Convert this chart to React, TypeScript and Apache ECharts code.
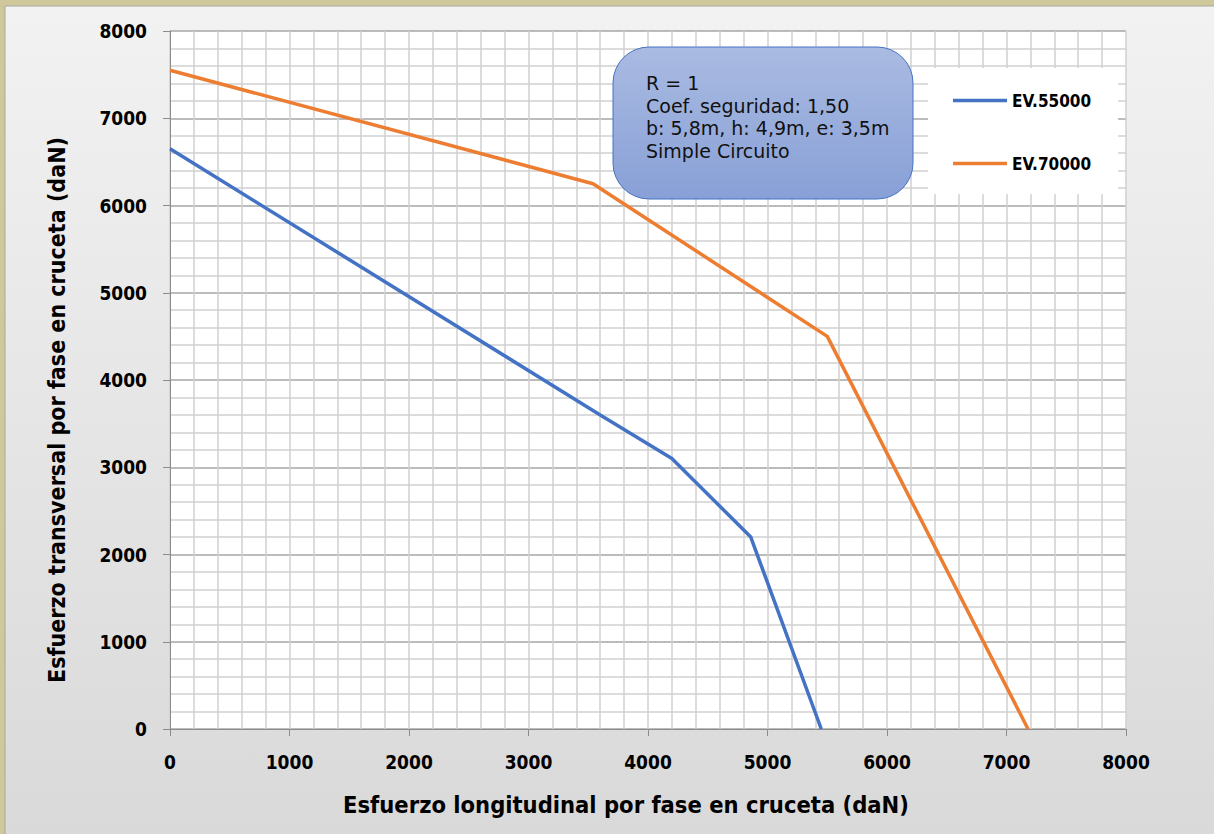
import React, { useEffect, useRef } from "react";
import * as echarts from "echarts";

const seriesNames = ["EV.55000", "EV.70000"];
const ev55000: [number, number][] = [
  [0, 6650],
  [3600, 3600],
  [4200, 3100],
  [4860, 2200],
  [5450, 0],
];
const ev70000: [number, number][] = [
  [0, 7550],
  [3540, 6250],
  [5500, 4500],
  [7180, 0],
];
const annotationLines = [
  "R = 1",
  "Coef. seguridad: 1,50",
  "b: 5,8m, h: 4,9m, e: 3,5m",
  "Simple Circuito",
];
const xTitle = "Esfuerzo longitudinal por fase en cruceta (daN)";
const yTitle = "Esfuerzo transversal por fase en cruceta (daN)";

const FONT = "'DejaVu Sans Condensed', 'DejaVu Sans', sans-serif";
const FONT_REG = "'DejaVu Sans', Verdana, sans-serif";
const LEGEND_ICON = "path://M0,0 L54,0 L54,3.5 L0,3.5 Z";

export default function App() {
  const ref = useRef<HTMLDivElement>(null);
  useEffect(() => {
    document.body.style.margin = "0";
    const chart = echarts.init(ref.current!, undefined, { renderer: "svg" });
    const axisCommon = {
      type: "value" as const,
      min: 0,
      max: 8000,
      interval: 1000,
      axisLine: { show: true, lineStyle: { color: "#8c8c8c", width: 1 } },
      axisTick: { show: true, inside: false, length: 7, lineStyle: { color: "#8c8c8c" } },
      minorTick: { show: false, splitNumber: 5 },
      minorSplitLine: { show: true, lineStyle: { color: "#d0d0d0", width: 1.5 } },
      axisLabel: {
        margin: 23,
        color: "#000",
        fontFamily: FONT,
        fontWeight: "bold" as const,
        fontSize: 19,
        formatter: (v: number) => String(v),
      },
    };
    chart.setOption({
      animation: false,
      backgroundColor: "#cfc89b",
      textStyle: { fontFamily: FONT },
      grid: {
        left: 170,
        top: 31,
        right: 88,
        bottom: 105,
        show: true,
        backgroundColor: "#ffffff",
        borderWidth: 0,
      },
      xAxis: {
        ...axisCommon,
        splitLine: { show: true, lineStyle: { color: "#d0d0d0", width: 1.5 } },
      },
      yAxis: {
        ...axisCommon,
        splitLine: { show: true, lineStyle: { color: "#a6a6a6", width: 1.5 } },
      },
      legend: {
        show: true,
        orient: "vertical",
        left: 928,
        top: 68,
        data: seriesNames.map((n) => ({ name: n, icon: LEGEND_ICON })),
        backgroundColor: "#ffffff",
        padding: [24, 27, 22, 25],
        itemGap: 46,
        itemWidth: 54,
        itemHeight: 14,
        textStyle: {
          fontFamily: FONT,
          fontWeight: "bold",
          fontSize: 17,
          color: "#000",
        },
      },
      series: [
        {
          name: seriesNames[0],
          type: "line",
          data: ev55000,
          showSymbol: false,
          symbol: "none",
          lineStyle: { color: "#4472c4", width: 3.5 },
          itemStyle: { color: "#4472c4" },
          z: 3,
        },
        {
          name: seriesNames[1],
          type: "line",
          data: ev70000,
          showSymbol: false,
          symbol: "none",
          lineStyle: { color: "#ed7d31", width: 3.5 },
          itemStyle: { color: "#ed7d31" },
          z: 3,
        },
      ],
      graphic: [
        {
          type: "rect",
          z: -100,
          shape: { x: 5, y: 6, width: 1214, height: 834 },
          style: {
            fill: new echarts.graphic.LinearGradient(0, 0, 0, 1, [
              { offset: 0, color: "#f2f2f2" },
              { offset: 1, color: "#d9d9d9" },
            ]),
            stroke: "#a9a9a0",
            lineWidth: 1,
          },
          silent: true,
        },
        {
          type: "rect",
          z: 100,
          shape: { x: 613, y: 47, width: 300, height: 152, r: 36 },
          style: {
            fill: new echarts.graphic.LinearGradient(0, 0, 0, 1, [
              { offset: 0, color: "#aabbe2" },
              { offset: 1, color: "#88a0d7" },
            ]),
            stroke: "#4472c4",
            lineWidth: 1,
          },
        },
        {
          type: "text",
          z: 101,
          x: 646,
          y: 72,
          style: {
            text: annotationLines.join("\n"),
            fill: "#111",
            font: `19px ${FONT_REG}`,
            lineHeight: 22.5,
            align: "left",
            verticalAlign: "top",
          },
        },
        {
          type: "text",
          z: 101,
          x: 626,
          y: 805,
          style: {
            text: xTitle,
            fill: "#000",
            font: `bold 23.5px ${FONT}`,
            align: "center",
            verticalAlign: "middle",
          },
        },
        {
          type: "text",
          z: 101,
          x: 57,
          y: 410,
          rotation: Math.PI / 2,
          style: {
            text: yTitle,
            fill: "#000",
            font: `bold 23px ${FONT}`,
            align: "center",
            verticalAlign: "middle",
          },
        },
      ],
    });
    return () => chart.dispose();
  }, []);
  return <div ref={ref} style={{ width: 1214, height: 834 }} />;
}
